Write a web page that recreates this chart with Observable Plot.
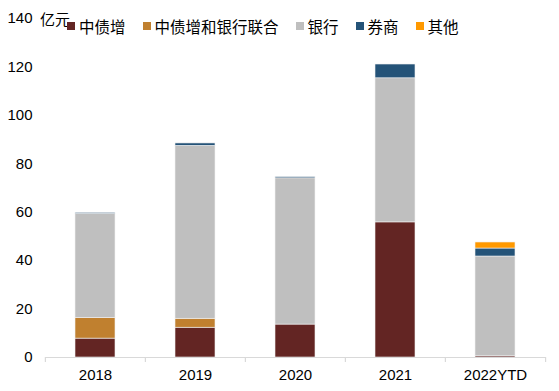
<!DOCTYPE html>
<html><head><meta charset="utf-8">
<script src="https://cdn.jsdelivr.net/npm/d3@7"></script>
<script src="https://cdn.jsdelivr.net/npm/@observablehq/plot@0.6"></script>
<style>
body{margin:0;background:#fff;}
#wrap{position:relative;width:559px;height:391px;font-family:"Liberation Sans","Noto Sans CJK SC",sans-serif;}
#legend{position:absolute;left:67px;top:15px;display:flex;align-items:center;font-size:15.5px;color:#000;font-family:"Noto Sans CJK SC","Liberation Sans",sans-serif;}
.item{display:flex;align-items:center;margin-right:17px;}
.sw{width:8px;height:8px;margin-right:4px;}
#unit{position:absolute;left:40px;top:8px;font-size:15px;font-family:"Noto Sans CJK SC",sans-serif;}
</style></head>
<body><div id="wrap"><div id="unit">亿元</div><div id="legend"></div></div>
<script>
const categories = ["2018","2019","2020","2021","2022YTD"];
const seriesNames = ["中债增","中债增和银行联合","银行","券商","其他"];
const colors = ["#632523","#C0802F","#BFBFBF","#245378","#FF9900"];
const s_zhongzhaizeng = [7.8, 12.3, 13.6, 55.8, 0.5];
const s_lianhe = [8.5, 3.7, 0, 0, 0];
const s_yinhang = [43.0, 71.4, 60.4, 59.5, 41.2];
const s_quanshang = [0.4, 1.0, 0.5, 5.7, 3.3];
const s_qita = [0, 0, 0, 0, 2.5];
const yTicks = [0,20,40,60,80,100,120,140];

const seriesValues = [s_zhongzhaizeng, s_lianhe, s_yinhang, s_quanshang, s_qita];
const data = [];
seriesNames.forEach((s,i)=>categories.forEach((c,j)=>data.push({cat:c, series:s, value:seriesValues[i][j]})));

const W=559,H=391,mL=45,mR=13,mT=18,mB=34;
const step=(W-mL-mR)/categories.length;

const chart = Plot.plot({
  width:W,height:H,marginLeft:mL,marginRight:mR,marginTop:mT,marginBottom:mB,
  style:{fontFamily:'"Liberation Sans",Arial,sans-serif',fontSize:"15px",color:"#000",background:"#fff"},
  x:{domain:categories,paddingInner:0.6,paddingOuter:0.3,tickSize:0,tickPadding:12,label:null},
  y:{domain:[0,140],ticks:yTicks,tickSize:0,tickPadding:13,label:null},
  color:{domain:seriesNames,range:colors},
  marks:[
    Plot.barY(data,{x:"cat",y:"value",fill:"series",stroke:"#f2f2f2",strokeWidth:0.6,order:seriesNames}),
    Plot.ruleY([0],{stroke:"#d9d9d9",strokeWidth:1.2}),
    Plot.ruleX(categories,{x:d=>d,y1:0,y2:0,insetBottom:-5,dx:-step/2,stroke:"#d9d9d9",strokeWidth:1.2}),
    Plot.ruleX([categories[categories.length-1]],{x:d=>d,y1:0,y2:0,insetBottom:-5,dx:step/2,stroke:"#d9d9d9",strokeWidth:1.2})
  ]
});
const wrap=document.getElementById("wrap");
wrap.insertBefore(chart, wrap.firstChild);
chart.style.position="absolute";chart.style.left="0";chart.style.top="0";
const lg=document.getElementById("legend");
seriesNames.forEach((s,i)=>{
  const it=document.createElement("div");it.className="item";
  const sw=document.createElement("div");sw.className="sw";sw.style.background=colors[i];
  const t=document.createElement("span");t.textContent=s;
  it.appendChild(sw);it.appendChild(t);lg.appendChild(it);
});
document.getElementById("unit").style.zIndex=2;lg.style.zIndex=2;
</script></body></html>
